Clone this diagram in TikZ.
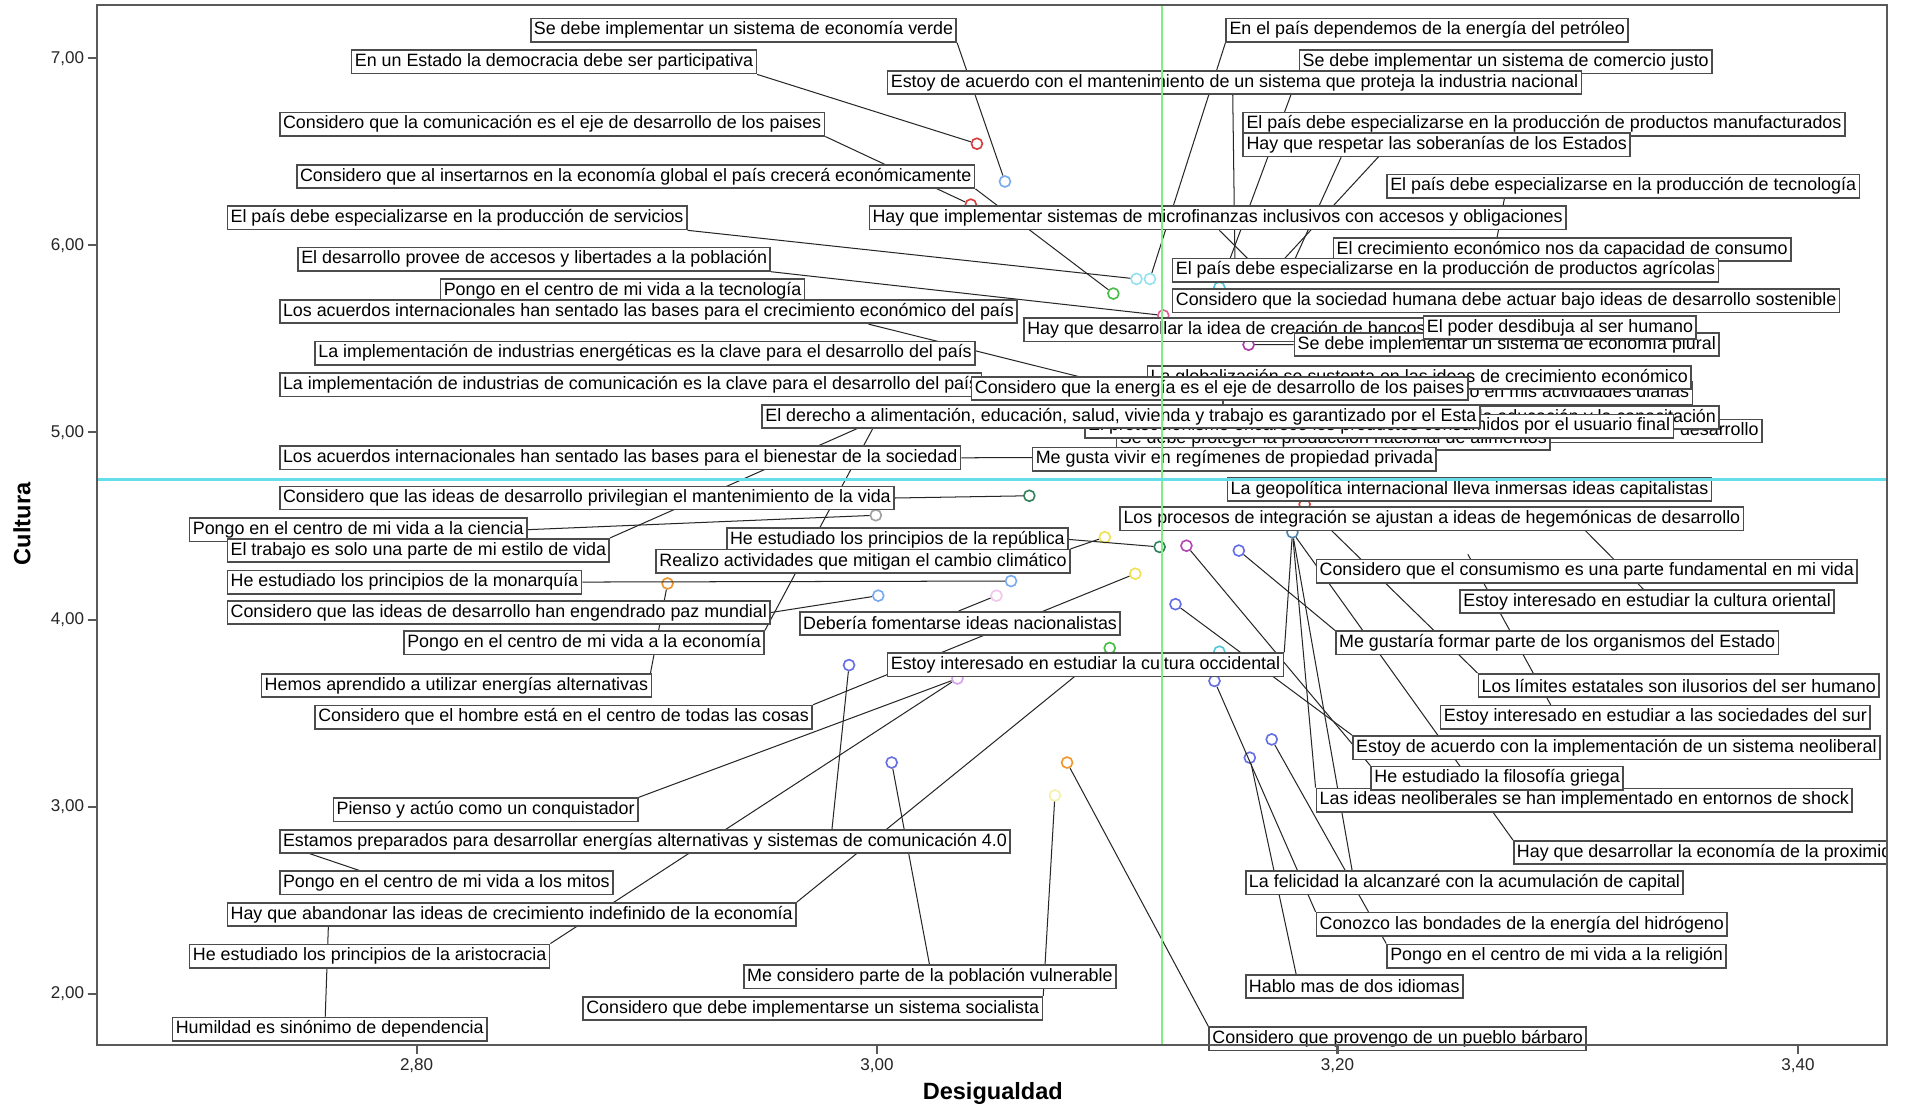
\documentclass[tikz,border=0pt]{standalone}
\usepackage{fontspec}
\setmainfont{Liberation Sans}
\newcommand\lblfont{\fontsize{8.8}{10}\selectfont}
\definecolor{refgreen}{RGB}{130,238,130}
\definecolor{refcyan}{RGB}{100,222,232}
\definecolor{cred}{RGB}{215,60,60}
\definecolor{clblue}{RGB}{120,170,240}
\definecolor{cgreen}{RGB}{70,190,70}
\definecolor{clcyan}{RGB}{150,225,240}
\definecolor{ccyan}{RGB}{80,200,220}
\definecolor{cpink}{RGB}{230,90,150}
\definecolor{cpurple}{RGB}{170,60,170}
\definecolor{cdgreen}{RGB}{50,130,90}
\definecolor{cgray}{RGB}{160,160,160}
\definecolor{cyellow}{RGB}{240,225,80}
\definecolor{clyellow}{RGB}{245,240,170}
\definecolor{corange}{RGB}{240,150,40}
\definecolor{cblue}{RGB}{100,110,230}
\definecolor{csteel}{RGB}{80,130,170}
\definecolor{cviolet}{RGB}{215,160,240}
\definecolor{clpink}{RGB}{240,200,235}
\definecolor{cmag}{RGB}{180,70,180}
\pgfdeclarelayer{bg}
\pgfdeclarelayer{fg}
\pgfsetlayers{bg,main,fg}
\begin{document}
\begin{tikzpicture}[x=0.6pt,y=-0.6pt,
  lab/.style={draw=black!70, fill=white, line width=0.8pt, inner xsep=1.6pt, inner ysep=0pt, minimum height=11.5pt, anchor=west, yshift=-1.1pt, font=\lblfont},
  labE/.style={lab, anchor=east},
  lead/.style={black!85, line width=0.5pt},
  dotc/.style={circle, draw=#1, line width=0.8pt, minimum size=5.4pt, inner sep=0pt},
  axisc/.style={black!65, line width=1pt},
  ticklab/.style={font=\fontsize{8.4}{10}\selectfont, text=black!85},
  axtitle/.style={font=\fontsize{11.6}{13}\selectfont\bfseries}]
\useasboundingbox (0,0) rectangle (1568,911);
\begin{pgfonlayer}{bg}
\fill[white] (0,0) rectangle (1568,911);
\end{pgfonlayer}

% ---------- dots ----------
\begin{pgfonlayer}{bg}
\node[dotc=cred] (dR1) at (802,118) {};
\node[dotc=clblue] (dLB1) at (825,149) {};
\node[dotc=cred] (dR2) at (797,168) {};
\node[dotc=clcyan] (dC1) at (933,229) {};
\node[dotc=clcyan] (dC2) at (944,229) {};
\node[dotc=ccyan] (dCY) at (1001,236) {};
\node[dotc=cgreen] (dG1) at (914,241) {};
\node[dotc=cpink] (dP1) at (955,259) {};
\node[dotc=cpurple] (dPU) at (1025,283) {};
\node[dotc=cdgreen] (dG2) at (845,407) {};
\node[dotc=cgray] (dGR) at (719,423) {};
\node[dotc=cyellow] (dY1) at (907,441) {};
\node[dotc=cdgreen] (dDG) at (952,449) {};
\node[dotc=cmag] (dMG) at (974,448) {};
\node[dotc=cblue] (dB3) at (1017,452) {};
\node[dotc=cred] (dR3) at (1071,414) {};
\node[dotc=csteel] (dST) at (1061,437) {};
\node[dotc=corange] (dOR) at (548,479) {};
\node[dotc=clblue] (dLB2) at (830,477) {};
\node[dotc=clblue] (dLB3) at (721,489) {};
\node[dotc=clpink] (dPK) at (818,489) {};
\node[dotc=cyellow] (dY2) at (932,471) {};
\node[dotc=cblue] (dB4) at (965,496) {};
\node[dotc=cgreen] (dG3) at (911,532) {};
\node[dotc=ccyan] (dCY2) at (1001,535) {};
\node[dotc=cblue] (dB1) at (697,546) {};
\node[dotc=cviolet] (dVI) at (786,557) {};
\node[dotc=cblue] (dB7) at (997,559) {};
\node[dotc=cblue] (dB6) at (1044,607) {};
\node[dotc=cblue] (dB5) at (1026,622) {};
\node[dotc=corange] (dOR2) at (876,626) {};
\node[dotc=cblue] (dB2) at (732,626) {};
\node[dotc=clyellow] (dLY) at (866,653) {};
\end{pgfonlayer}
\coordinate (h1) at (905,314);
\coordinate (h2) at (1000,375);
\coordinate (h3) at (735,338);
\coordinate (h4) at (726,334);
\coordinate (h5) at (270,748);
\coordinate (h6) at (1014,226);
\coordinate (h7) at (1040,228);
\coordinate (h8) at (1057,226);
\coordinate (h9) at (1225,216);
\coordinate (h10) at (1042,230);
\coordinate (h11) at (1290,424);
\coordinate (h12) at (1205,455);
\coordinate (hy3) at (243,697);

% ---------- labels (left) ----------
\node[lab] (L1) at (435,23) {Se debe implementar un sistema de economía verde};
\node[lab] (L2) at (288,49) {En un Estado la democracia debe ser participativa};
\node[lab] (L3) at (229,100) {Considero que la comunicación es el eje de desarrollo de los paises};
\node[lab] (L4) at (243,143) {Considero que al insertarnos en la economía global el país crecerá económicamente};
\node[lab] (L5) at (186,177) {El país debe especializarse en la producción de servicios};
\node[lab] (L6) at (244,211) {El desarrollo provee de accesos y libertades a la población};
\node[lab] (L7) at (361,237) {Pongo en el centro de mi vida a la tecnología};
\node[lab] (L8) at (229,254) {Los acuerdos internacionales han sentado las bases para el crecimiento económico del país};
\node[lab] (L9) at (258,288) {La implementación de industrias energéticas es la clave para el desarrollo del país};
\node[lab] (L10) at (229,314) {La implementación de industrias de comunicación es la clave para el desarrollo del país};
% ---------- labels (right, upper) ----------
\node[lab] (R1) at (1006,23) {En el país dependemos de la energía del petróleo};
\node[lab] (R2) at (1066,49) {Se debe implementar un sistema de comercio justo};
\node[lab] (R3) at (728,66) {Estoy de acuerdo con el mantenimiento de un sistema que proteja la industria nacional};
\node[lab] (R4) at (1020,100) {El país debe especializarse en la producción de productos manufacturados};
\node[lab] (R5) at (1020,117) {Hay que respetar las soberanías de los Estados};
\node[lab] (R6) at (1138,151) {El país debe especializarse en la producción de tecnología};
\node[lab] (R7) at (713,177) {Hay que implementar sistemas de microfinanzas inclusivos con accesos y obligaciones};
\node[lab] (R8) at (1094,203) {El crecimiento económico nos da capacidad de consumo};
\node[lab] (R9) at (962,220) {El país debe especializarse en la producción de productos agrícolas};
\node[lab] (R10) at (962,245) {Considero que la sociedad humana debe actuar bajo ideas de desarrollo sostenible};
\node[lab] (R11) at (840,269) {Hay que desarrollar la idea de creación de bancos};
\node[lab] (R13) at (1062,281) {Se debe implementar un sistema de economía plural};
\node[lab] (R12) at (1168,267) {El poder desdibuja al ser humano};
\node[labE] (R16) at (1390,321) {Aplico el concepto de desarrollo en mis actividades diarias};
\node[labE] (R14) at (1389,308) {La globalización se sustenta en las ideas de crecimiento económico};
\node[lab] (R15) at (797,317) {Considero que la energía es el eje de desarrollo de los paises};
\node[labE] (R18) at (1447,352) {Los países del norte imponen sus ideas de desarrollo};
\node[labE] (R17) at (1412,341) {Hay que fomentar la educación y la capacitación};
\node[lab] (R20) at (916,358) {Se debe proteger la producción nacional de alimentos};
\node[lab] (R19) at (890,348) {El proteccionismo encarece los productos consumidos por el usuario final};
\node[lab] (L11) at (625,340) {El derecho a alimentación, educación, salud, vivienda y trabajo es garantizado por el Esta};
\node[lab] (R21) at (847,375) {Me gusta vivir en regímenes de propiedad privada};
\node[lab] (L12) at (229,374) {Los acuerdos internacionales han sentado las bases para el bienestar de la sociedad};
\node[lab] (R22) at (1007,400) {La geopolítica internacional lleva inmersas ideas capitalistas};
\node[lab] (R23) at (919,424) {Los procesos de integración se ajustan a ideas de hegemónicas de desarrollo};
% ---------- labels (left, lower) ----------
\node[lab] (L13) at (229,407) {Considero que las ideas de desarrollo privilegian el mantenimiento de la vida};
\node[lab] (L14) at (155,433) {Pongo en el centro de mi vida a la ciencia};
\node[lab] (L15) at (186,450) {El trabajo es solo una parte de mi estilo de vida};
\node[lab] (L16) at (596,441) {He estudiado los principios de la república};
\node[lab] (L17) at (538,459) {Realizo actividades que mitigan el cambio climático};
\node[lab] (L18) at (186,476) {He estudiado los principios de la monarquía};
\node[lab] (L19) at (186,501) {Considero que las ideas de desarrollo han engendrado paz mundial};
\node[lab] (L20) at (656,510) {Debería fomentarse ideas nacionalistas};
\node[lab] (L21) at (331,526) {Pongo en el centro de mi vida a la economía};
\node[lab] (L22) at (214,561) {Hemos aprendido a utilizar energías alternativas};
\node[lab] (L23) at (728,544) {Estoy interesado en estudiar la cultura occidental};
\node[lab] (L24) at (258,587) {Considero que el hombre está en el centro de todas las cosas};
\node[lab] (L25) at (273,663) {Pienso y actúo como un conquistador};
\node[lab] (L26) at (229,689) {Estamos preparados para desarrollar energías alternativas y sistemas de comunicación 4.0};
\node[lab] (L27) at (229,723) {Pongo en el centro de mi vida a los mitos};
\node[lab] (L28) at (186,749) {Hay que abandonar las ideas de crecimiento indefinido de la economía};
\node[lab] (L29) at (155,783) {He estudiado los principios de la aristocracia};
\node[lab] (L30) at (610,800) {Me considero parte de la población vulnerable};
\node[lab] (L31) at (478,826) {Considero que debe implementarse un sistema socialista};
\node[lab] (L32) at (141,843) {Humildad es sinónimo de dependencia};
% ---------- labels (right, lower) ----------
\node[lab] (R24) at (1080,467) {Considero que el consumismo es una parte fundamental en mi vida};
\node[lab] (R25) at (1198,492) {Estoy interesado en estudiar la cultura oriental};
\node[lab] (R26) at (1096,526) {Me gustaría formar parte de los organismos del Estado};
\node[lab] (R27) at (1213,561) {Los límites estatales son ilusorios del ser humano};
\node[lab] (R28) at (1182,587) {Estoy interesado en estudiar a las sociedades del sur};
\node[lab] (R29) at (1110,612) {Estoy de acuerdo con la implementación de un sistema neoliberal};
\node[lab] (R31) at (1080,655) {Las ideas neoliberales se han implementado en entornos de shock};
\node[lab] (R30) at (1125,637) {He estudiado la filosofía griega};
\begin{scope}
\clip (80,4) rectangle (1549,857);
\node[lab] (R32) at (1242,698) {Hay que desarrollar la economía de la proximidad};
\end{scope}
\node[lab] (R33) at (1022,723) {La felicidad la alcanzaré con la acumulación de capital};
\node[lab] (R34) at (1080,757) {Conozco las bondades de la energía del hidrógeno};
\node[lab] (R35) at (1138,783) {Pongo en el centro de mi vida a la religión};
\node[lab] (R36) at (1022,808) {Hablo mas de dos idiomas};
\node[lab] (R37) at (992,851) {Considero que provengo de un pueblo bárbaro};

% ---------- leader lines ----------
\begin{pgfonlayer}{bg}
\draw[lead] (L1.south east) -- (dLB1);
\draw[lead] (L2.south east) -- (dR1);
\draw[lead] (L3.south east) -- (dR2);
\draw[lead] (L4.south east) -- (dG1);
\draw[lead] (L5.south east) -- (dC1);
\draw[lead] (L6.south east) -- (dP1);
\draw[lead] ([shift={(484,0)}]L8.south west) -- (h1);
\draw[lead] (L12.east) -- (h2);
\draw[lead] (L13.east) -- (dG2);
\draw[lead] (L14.east) -- (dGR);
\draw[lead] (L15.north east) -- (h3);
\draw[lead] (L16.east) -- (dDG);
\draw[lead] (L17.north east) -- (dY1);
\draw[lead] (L18.east) -- (dLB2);
\draw[lead] (L19.east) -- (dLB3);
\draw[lead] ([shift={(131,0)}]L20.north west) -- (dPK);
\draw[lead] (L21.north east) -- (h4);
\draw[lead] ([shift={(320,0)}]L22.north west) -- (dOR);
\draw[lead] (L23.north east) -- (dST);
\draw[lead] (L24.north east) -- (dY2);
\draw[lead] (L25.north east) -- (dVI);
\draw[lead] ([shift={(454,0)}]L26.north west) -- (dB1);
\draw[lead] ([shift={(66,0)}]L27.north west) -- (hy3);
\draw[lead] (L28.north east) -- (dG3);
\draw[lead] (L29.north east) -- (dVI);
\draw[lead] ([shift={(153,0)}]L30.north west) -- (dB2);
\draw[lead] (L31.north east) -- (dLY);
\draw[lead] ([shift={(126,0)}]L32.north west) -- (h5);
\draw[lead] (R1.south west) -- (dC2);
\draw[lead] (R2.south west) -- (dCY);
\draw[lead] ([shift={(284,0)}]R3.south west) -- (h6);
\draw[lead] ([shift={(127,0)}]R4.south west) -- (h7);
\draw[lead] ([shift={(81,0)}]R5.south west) -- (h8);
\draw[lead] ([shift={(97,0)}]R6.south west) -- (h9);
\draw[lead] ([shift={(288,0)}]R7.south west) -- (h10);
\draw[lead] (R8.south west) -- (h8);
\draw[lead] (R13.west) -- (dPU);
\draw[lead] ([shift={(151,0)}]R25.north west) -- (h11);
\draw[lead] (R26.north west) -- (dB3);
\draw[lead] (R27.north west) -- (dR3);
\draw[lead] ([shift={(91,0)}]R28.north west) -- (h12);
\draw[lead] (R29.north west) -- (dB4);
\draw[lead] (R30.north west) -- (dMG);
\draw[lead] (R31.north west) -- (dST);
\draw[lead] (R32.north west) -- (dST);
\draw[lead] ([shift={(88,0)}]R33.north west) -- (dST);
\draw[lead] (R34.north west) -- (dB7);
\draw[lead] (R35.north west) -- (dB6);
\draw[lead] ([shift={(42,0)}]R36.north west) -- (dB5);
\draw[lead] (R37.north west) -- (dOR2);
\end{pgfonlayer}

% ---------- reference lines, frame, axes ----------
\begin{pgfonlayer}{fg}
\draw[refgreen, line width=1.2pt] (953.7,4) -- (953.7,857);
\draw[refcyan, line width=1.4pt] (80,393.4) -- (1549,393.4);
\draw[axisc] (80,4) rectangle (1549,857.5);
\foreach \yy in {47.8, 201.4, 355, 508.6, 662.2, 815.8}{
  \draw[axisc] (72,\yy) -- (80,\yy);
}
\foreach \lbl/\yy in {{7,00}/47.8, {6,00}/201.4, {5,00}/355, {4,00}/508.6, {3,00}/662.2, {2,00}/815.8}{
  \node[ticklab, anchor=east, inner sep=1pt] at (71,\yy) {\lbl};
}
\foreach \lbl/\xx in {{2,80}/342, {3,00}/720, {3,20}/1098, {3,40}/1476}{
  \draw[axisc] (\xx,857.5) -- (\xx,865);
  \node[ticklab, anchor=north, inner sep=1pt] at (\xx,867) {\lbl};
}
\node[axtitle, rotate=90] (ytitle) at (18,430) {Cultura};
\node[axtitle] (xtitle) at (815,898) {Desigualdad};
\end{pgfonlayer}
\end{tikzpicture}
\end{document}
